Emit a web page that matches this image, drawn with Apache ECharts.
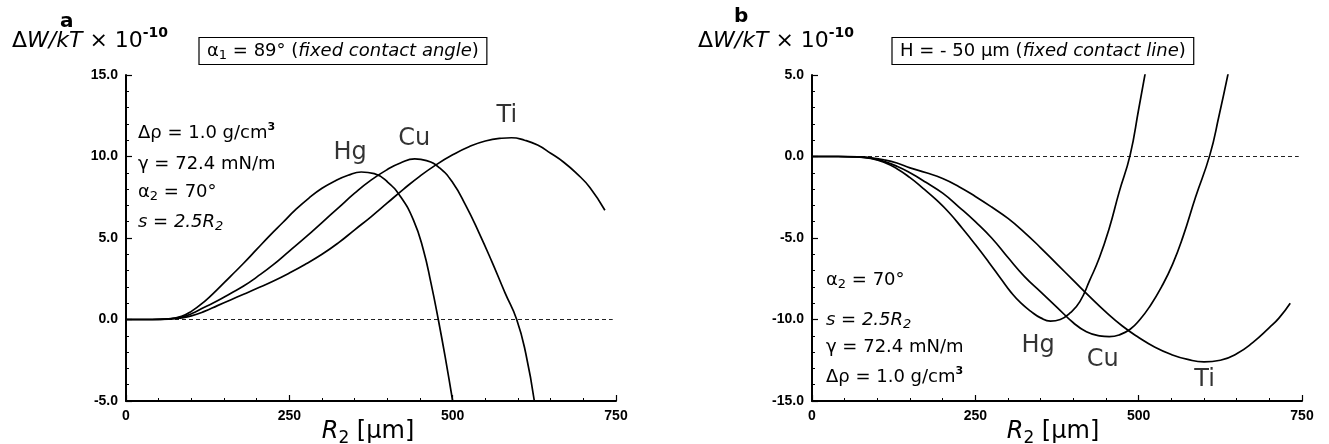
<!DOCTYPE html>
<html><head><meta charset="utf-8">
<script src="https://cdn.jsdelivr.net/npm/echarts@6/dist/echarts.min.js"></script>
<style>html,body{margin:0;padding:0;background:#fff}#c{width:1329px;height:444px}</style>
</head><body><div id="c"></div>
<script>
// ---- axis ticks ----
const xTicks = [0, 250, 500, 750];
const yTicksA = [-5, 0, 5, 10, 15];
const yTicksB = [-15, -10, -5, 0, 5];

// ---- panel a: alpha1 = 89 deg (fixed contact angle) ----
const hgA = [[0,0],[40,0],[65,0.04],[85,0.2],[100,0.5],[120,1.1],[140,1.85],[160,2.65],[180,3.45],[200,4.3],[220,5.15],[240,5.95],[260,6.75],[280,7.45],[300,8.05],[320,8.5],[340,8.85],[360,9.05],[380,8.95],[400,8.45],[420,7.55],[440,6.1],[455,4.3],[467,2.2],[478,0.0],[489,-2.4],[500,-5.0]];
const cuA = [[0,0],[40,0],[65,0.03],[85,0.15],[100,0.35],[120,0.75],[140,1.15],[160,1.6],[180,2.05],[200,2.6],[225,3.35],[250,4.2],[275,5.05],[300,5.95],[325,6.85],[350,7.75],[375,8.55],[400,9.2],[420,9.6],[442,9.85],[460,9.75],[480,9.3],[500,8.4],[520,7.0],[540,5.35],[560,3.55],[580,1.65],[598,0.0],[612,-2.1],[625,-5.0]];
const tiA = [[0,0],[40,0],[65,0.02],[85,0.1],[100,0.22],[120,0.5],[140,0.85],[160,1.2],[180,1.55],[200,1.9],[225,2.35],[250,2.85],[275,3.4],[300,4.0],[325,4.7],[350,5.5],[375,6.3],[400,7.15],[425,8.0],[450,8.8],[475,9.5],[500,10.1],[525,10.6],[550,10.95],[575,11.12],[590,11.15],[610,11.0],[630,10.7],[650,10.2],[670,9.65],[690,8.95],[710,8.1],[733,6.7]];

// ---- panel b: H = -50 um (fixed contact line) ----
const hgB = [[0,0],[40,0],[70,-0.03],[90,-0.12],[110,-0.35],[130,-0.75],[150,-1.3],[170,-1.95],[190,-2.65],[210,-3.45],[230,-4.4],[250,-5.4],[270,-6.45],[290,-7.55],[305,-8.35],[320,-9.0],[335,-9.5],[350,-9.9],[365,-10.1],[380,-10.0],[395,-9.6],[410,-8.9],[425,-7.6],[440,-6.2],[455,-4.4],[470,-2.2],[487,0.1],[500,2.9],[510,5.1]];
const cuB = [[0,0],[40,0],[70,-0.02],[90,-0.1],[110,-0.3],[130,-0.6],[150,-1.0],[175,-1.6],[200,-2.25],[225,-3.1],[250,-4.0],[275,-5.0],[300,-6.2],[325,-7.35],[350,-8.3],[375,-9.25],[400,-10.2],[420,-10.75],[440,-11.0],[455,-11.05],[470,-10.95],[487,-10.6],[502,-10.0],[517,-9.2],[535,-8.0],[552,-6.6],[568,-4.9],[587,-2.5],[609,0.1],[623,2.5],[637,5.1]];
const tiB = [[0,0],[40,0],[70,-0.02],[90,-0.08],[110,-0.2],[130,-0.4],[150,-0.7],[175,-1.0],[200,-1.35],[225,-1.85],[250,-2.45],[275,-3.1],[300,-3.8],[325,-4.65],[350,-5.6],[375,-6.6],[400,-7.6],[425,-8.6],[450,-9.55],[475,-10.4],[500,-11.1],[525,-11.7],[550,-12.15],[575,-12.45],[600,-12.6],[625,-12.5],[650,-12.1],[675,-11.4],[700,-10.5],[715,-9.9],[732,-9.0]];

// zero reference line extent
const zeroLine = [[0,0],[745,0]];

// curve name labels: [name, R, value]
const labelsA = [['Hg',343,10.2],['Cu',441,11.1],['Ti',583,12.5]];
const labelsB = [['Hg',346,-11.6],['Cu',445,-12.5],['Ti',601,-13.7]];

const F = "'DejaVu Sans', sans-serif";
const FL = "'Liberation Sans', Arial, sans-serif";

function mkRich(s){
  return {
    n:{fontSize:s,fontFamily:F,fill:'#000',lineHeight:Math.round(s*1.3)},
    i:{fontSize:s,fontFamily:F,fontStyle:'italic',fill:'#000',lineHeight:Math.round(s*1.3)},
    sub:{fontSize:Math.round(s*0.7),fontFamily:F,fill:'#000',lineHeight:Math.round(s*0.7),verticalAlign:'bottom'},
    isub:{fontSize:Math.round(s*0.7),fontFamily:F,fontStyle:'italic',fill:'#000',lineHeight:Math.round(s*0.7),verticalAlign:'bottom'},
    sup:{fontSize:Math.round(s*0.62),fontFamily:F,fontWeight:'bold',fill:'#000',lineHeight:Math.round(s*0.62),verticalAlign:'top'}
  };
}
function txt(x,y,text,size,extra){
  return Object.assign({type:'text',x:x,y:y,z:10,silent:true,
    style:Object.assign({text:text,rich:mkRich(size),fontSize:size,fontFamily:F,fill:'#000',align:'left',verticalAlign:'middle'},extra||{})});
}

function xAx(i){
  return {gridIndex:i,type:'value',min:xTicks[0],max:xTicks[xTicks.length-1],interval:xTicks[1]-xTicks[0],
    axisLine:{show:true,onZero:false,lineStyle:{color:'#000',width:2}},
    axisTick:{show:true,inside:true,length:6,lineStyle:{color:'#000',width:1.2}},
    minorTick:{show:true,splitNumber:5,length:3,lineStyle:{color:'#000',width:1}},
    splitLine:{show:false},minorSplitLine:{show:false},
    axisLabel:{fontFamily:FL,fontWeight:'bold',fontSize:14,color:'#000',margin:8}};
}
function yAx(i,ticks){
  return {gridIndex:i,type:'value',min:ticks[0],max:ticks[ticks.length-1],interval:ticks[1]-ticks[0],
    axisLine:{show:true,onZero:false,lineStyle:{color:'#000',width:2}},
    axisTick:{show:true,inside:true,length:6,lineStyle:{color:'#000',width:1.2}},
    minorTick:{show:true,splitNumber:5,length:3,lineStyle:{color:'#000',width:1}},
    splitLine:{show:false},minorSplitLine:{show:false},
    axisLabel:{fontFamily:FL,fontWeight:'bold',fontSize:14,color:'#000',margin:8,formatter:v=>v.toFixed(1)}};
}
function curve(i,data){
  return {type:'line',xAxisIndex:i,yAxisIndex:i,data:data,smooth:0.5,showSymbol:false,symbol:'none',
    lineStyle:{color:'#000',width:1.7},clip:true,z:3};
}
function zero(i){
  return {type:'line',xAxisIndex:i,yAxisIndex:i,data:zeroLine,showSymbol:false,symbol:'none',
    lineStyle:{color:'#222',width:1,type:[4,3]},z:2};
}
function names(i,arr){
  return {type:'scatter',xAxisIndex:i,yAxisIndex:i,symbolSize:0,z:5,
    data:arr.map(a=>({name:a[0],value:[a[1],a[2]]})),
    label:{show:true,position:'inside',formatter:'{b}',fontFamily:F,fontSize:24,color:'#000'}};
}

const chart = echarts.init(document.getElementById('c'));
chart.setOption({
  animation:false,
  backgroundColor:'#fff',
  grid:[{left:126,top:75,width:490,height:326},{left:812,top:75,width:490,height:326}],
  xAxis:[xAx(0),xAx(1)],
  yAxis:[yAx(0,yTicksA),yAx(1,yTicksB)],
  series:[
    zero(0),curve(0,hgA),curve(0,cuA),curve(0,tiA),names(0,labelsA),
    zero(1),curve(1,hgB),curve(1,cuB),curve(1,tiB),names(1,labelsB)
  ],
  graphic:[
    // panel letters
    txt(60,22,'a',20,{fontWeight:'bold'}),
    txt(734,17,'b',20,{fontWeight:'bold'}),
    // y titles
    txt(12,41,'{n|Δ}{i|W/kT}{n| × 10}{sup|-10}',22),
    txt(698,41,'{n|Δ}{i|W/kT}{n| × 10}{sup|-10}',22),
    // condition boxes
    txt(199,51,'{n|α}{sub|1}{n| = 89° (}{i|fixed contact angle}{n|)}',18,{borderColor:'#000',borderWidth:1.2,padding:[2,8,2,8]}),
    txt(892,51,'{n|H = - 50 μm (}{i|fixed contact line}{n|)}',18,{borderColor:'#000',borderWidth:1.2,padding:[2,8,2,8]}),
    // parameter text panel a
    txt(138,133,'{n|Δρ = 1.0 g/cm}{sup|3}',18),
    txt(138,164,'{n|γ = 72.4 mN/m}',18),
    txt(138,192,'{n|α}{sub|2}{n| = 70°}',18),
    txt(138,222,'{i|s = 2.5R}{isub|2}',18),
    // parameter text panel b
    txt(826,280,'{n|α}{sub|2}{n| = 70°}',18),
    txt(826,320,'{i|s = 2.5R}{isub|2}',18),
    txt(826,347,'{n|γ = 72.4 mN/m}',18),
    txt(826,377,'{n|Δρ = 1.0 g/cm}{sup|3}',18),
    // x titles
    txt(368,432,'{i|R}{sub|2}{n| [μm]}',24,{align:'center'}),
    txt(1053,432,'{i|R}{sub|2}{n| [μm]}',24,{align:'center'})
  ]
});
</script>
</body></html>
